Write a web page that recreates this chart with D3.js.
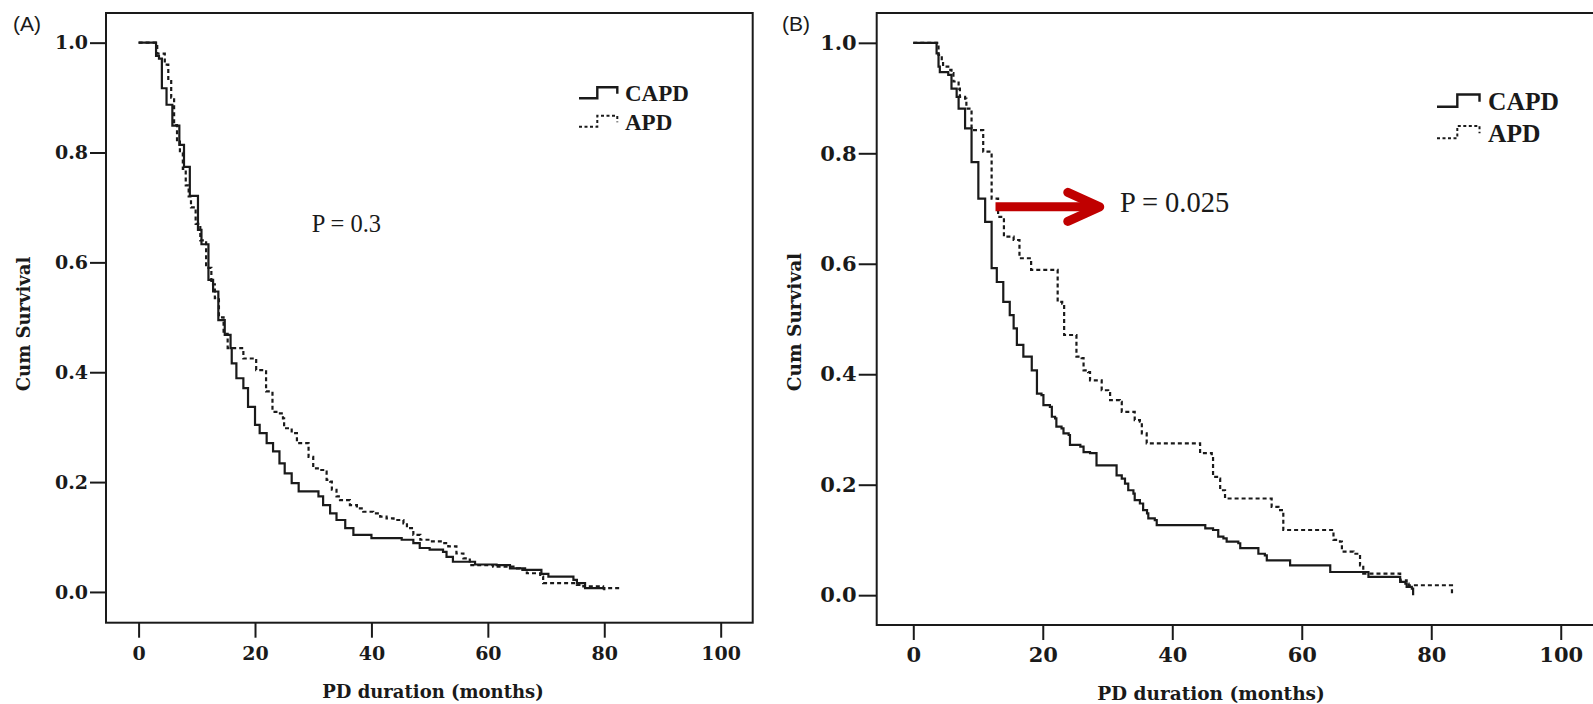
<!DOCTYPE html>
<html>
<head>
<meta charset="utf-8">
<script src="https://cdn.jsdelivr.net/npm/d3@7"></script>
<style>
  html, body { margin: 0; padding: 0; background: #fff; overflow: hidden; }
</style>
</head>
<body>
<svg id="chart" width="1593" height="704"></svg>
<script>
// ticks shared by both panels
const survivalTicks = [0, 0.2, 0.4, 0.6, 0.8, 1.0];
const monthTicks = [0, 20, 40, 60, 80, 100];
const groups = ["CAPD", "APD"];
const pLabels = ["P = 0.3", "P = 0.025"];

// Kaplan-Meier steps: [months, cum survival after the drop]
const capdA = [[0,1],[3.0,0.976],[3.5,0.971],[4.0,0.917],[4.8,0.887],[5.8,0.849],[7.0,0.814],[7.8,0.774],[8.8,0.721],
  [10.2,0.659],[10.8,0.633],[12.0,0.568],[12.8,0.547],[13.7,0.495],[14.8,0.468],[15.8,0.444],[16.0,0.416],[16.8,0.389],
  [18.0,0.371],[18.8,0.337],[20.0,0.304],[20.8,0.289],[22.0,0.271],[23.1,0.256],[24.2,0.234],[25.1,0.216],[26.3,0.198],
  [27.5,0.183],[30.9,0.174],[31.7,0.158],[32.9,0.143],[34.0,0.131],[35.5,0.116],[36.9,0.104],[40.0,0.098],[45.2,0.095],
  [47.2,0.089],[48.3,0.080],[50.0,0.077],[52.3,0.073],[52.9,0.064],[54.0,0.055],[57.8,0.050],[61.5,0.049],[63.8,0.043],
  [66.4,0.040],[69.2,0.033],[70.4,0.028],[74.7,0.022],[75.3,0.016],[76.7,0.007],[80.0,0.003]];

const apdA = [[0,1],[3.2,0.98],[4.5,0.96],[5.1,0.93],[5.6,0.90],[6.1,0.85],[6.6,0.82],[7.1,0.80],[7.6,0.77],[8.1,0.74],
  [8.6,0.72],[9.0,0.70],[9.8,0.67],[10.6,0.64],[11.6,0.59],[12.5,0.56],[13.1,0.535],[13.8,0.50],[14.6,0.47],[15.3,0.444],
  [18.0,0.425],[20.2,0.404],[21.9,0.365],[23.0,0.328],[24.0,0.325],[24.8,0.316],[25.0,0.298],[26.3,0.289],[27.2,0.271],
  [29.2,0.246],[30.0,0.225],[31.2,0.222],[32.0,0.219],[32.3,0.204],[32.9,0.201],[33.2,0.186],[34.0,0.174],[34.6,0.167],
  [36.3,0.158],[37.5,0.152],[38.6,0.146],[40.3,0.143],[41.5,0.137],[42.6,0.134],[43.8,0.131],[45.5,0.125],[46.1,0.116],
  [47.2,0.104],[48.4,0.095],[50.1,0.092],[52.3,0.089],[53.2,0.083],[54.6,0.070],[55.8,0.061],[56.9,0.049],[60.9,0.046],
  [64.4,0.043],[65.5,0.040],[66.7,0.034],[69.0,0.028],[69.5,0.016],[75.3,0.013],[76.4,0.010],[79.8,0.007],[83.0,0.007]];

const capdB = [[0,1],[3.6,0.981],[3.9,0.957],[4.1,0.947],[5.4,0.942],[5.9,0.917],[6.7,0.902],[7.0,0.881],[8.0,0.845],
  [9.0,0.784],[10.05,0.718],[11.1,0.676],[12.1,0.592],[12.9,0.567],[13.9,0.531],[14.9,0.507],[15.5,0.483],[16.0,0.453],
  [17.0,0.432],[18.3,0.407],[19.1,0.365],[19.8,0.362],[20.1,0.344],[21.1,0.341],[21.4,0.323],[21.9,0.320],[22.1,0.305],
  [22.9,0.302],[23.2,0.293],[24.0,0.290],[24.2,0.272],[25.8,0.269],[26.3,0.259],[27.3,0.257],[28.3,0.235],[31.4,0.217],
  [32.2,0.211],[32.7,0.202],[33.2,0.190],[34.0,0.184],[34.2,0.172],[35.0,0.166],[35.5,0.154],[36.1,0.148],[36.3,0.139],
  [37.3,0.136],[37.6,0.127],[45.1,0.121],[46.3,0.118],[47.1,0.106],[47.9,0.103],[48.4,0.097],[50.2,0.094],[50.5,0.085],
  [53.3,0.075],[54.3,0.072],[54.6,0.063],[58.2,0.054],[64.4,0.042],[70.3,0.033],[75.2,0.024],[76.0,0.021],[76.2,0.015],
  [77.0,0.012],[77.2,0.0]];

const apdB = [[0,1],[3.9,0.978],[4.4,0.966],[4.6,0.957],[5.4,0.951],[5.9,0.945],[6.2,0.930],[7.0,0.917],[7.2,0.902],
  [8.0,0.899],[8.2,0.881],[9.0,0.842],[10.8,0.803],[12.1,0.718],[13.1,0.685],[14.0,0.649],[15.5,0.643],[16.4,0.610],
  [18.2,0.589],[22.3,0.531],[23.0,0.528],[23.3,0.471],[25.2,0.432],[26.0,0.429],[26.3,0.407],[27.0,0.404],[27.3,0.389],
  [29.1,0.371],[30.1,0.368],[30.4,0.353],[31.9,0.350],[32.2,0.332],[34.2,0.317],[35.0,0.314],[35.3,0.293],[36.05,0.275],
  [44.3,0.257],[46.1,0.253],[46.3,0.214],[47.1,0.211],[47.4,0.190],[48.15,0.175],[55.35,0.160],[56.4,0.154],[57.15,0.118],
  [64.9,0.100],[65.9,0.097],[66.2,0.079],[68.0,0.075],[69.0,0.054],[69.5,0.039],[75.2,0.027],[76.2,0.021],[76.5,0.018],
  [83.2,0.018],[83.2,0.0]];

// red arrow pointing at the gap in panel B, in data units
const arrowB = [[12.7, 0.703], [28.8, 0.703]];

const svg = d3.select("#chart");
const serif = "'DejaVu Serif', serif";
const times = "'Liberation Serif', 'Times New Roman', serif";
const ink = "#1a1a1a";

const panels = [
  { tag: "(A)", tagAt: [13, 31], box: [106, 13, 752.7, 622.7], xDom: [-5.6, 105.5], yDom: [-0.056, 1.054],
    k: 1, yTick: 16, xTick: 15, xPad: 9, tickFont: 19, titleFont: 18, series: [capdA, apdA],
    p: pLabels[0], pAt: [311.7, 231.7], pFont: 24.5, legendAt: [579, 98.3],
    yTitle: [30, 324], xTitle: [433, 698], arrow: null },
  { tag: "(B)", tagAt: [782, 31], box: [876.7, 13, 1597, 625], xDom: [-5.65, 105.6], yDom: [-0.054, 1.054],
    k: 1.11, yTick: 18, xTick: 15, xPad: 7, tickFont: 21, titleFont: 18.5, series: [capdB, apdB],
    p: pLabels[1], pAt: [1120, 212], pFont: 28.5, legendAt: [1437, 106.7],
    yTitle: [801, 322], xTitle: [1211, 700], arrow: arrowB }
];

function drawPanel(p) {
  const [bx0, by0, bx1, by1] = p.box;
  const x = d3.scaleLinear().domain(p.xDom).range([bx0, bx1]);
  const y = d3.scaleLinear().domain(p.yDom).range([by1, by0]);
  const g = svg.append("g");

  g.append("text").attr("x", p.tagAt[0]).attr("y", p.tagAt[1])
    .attr("font-family", "'Liberation Sans', Arial, sans-serif").attr("font-size", 21)
    .attr("fill", ink).text(p.tag);

  const yAxis = g.append("g").attr("transform", `translate(${bx0},0)`)
    .call(d3.axisLeft(y).tickValues(survivalTicks).tickFormat(d3.format(".1f")).tickSize(p.yTick).tickPadding(2));
  const xAxis = g.append("g").attr("transform", `translate(0,${by1})`)
    .call(d3.axisBottom(x).tickValues(monthTicks).tickFormat(d3.format("d")).tickSize(p.xTick).tickPadding(p.xPad));
  [yAxis, xAxis].forEach(a => {
    a.select(".domain").remove();
    a.selectAll(".tick line").attr("stroke", ink).attr("stroke-width", 2);
    a.selectAll(".tick text").attr("font-family", serif).attr("font-weight", "bold")
      .attr("font-size", p.tickFont).attr("fill", ink);
  });

  g.append("rect").attr("x", bx0).attr("y", by0).attr("width", bx1 - bx0).attr("height", by1 - by0)
    .attr("fill", "none").attr("stroke", ink).attr("stroke-width", 2);

  g.append("text").attr("transform", `translate(${p.yTitle[0]},${p.yTitle[1]}) rotate(-90)`)
    .attr("text-anchor", "middle").attr("font-family", serif).attr("font-weight", "bold")
    .attr("font-size", p.titleFont).attr("fill", ink).text("Cum Survival");
  g.append("text").attr("x", p.xTitle[0]).attr("y", p.xTitle[1])
    .attr("text-anchor", "middle").attr("font-family", serif).attr("font-weight", "bold")
    .attr("font-size", p.titleFont).attr("fill", ink).text("PD duration (months)");

  const line = d3.line().x(d => x(d[0])).y(d => y(d[1])).curve(d3.curveStepAfter);
  p.series.forEach((s, i) => {
    g.append("path").datum(s).attr("d", line).attr("fill", "none")
      .attr("stroke", ink).attr("stroke-width", i === 0 ? 2.2 : 2.2)
      .attr("stroke-dasharray", i === 0 ? null : "4,3");
  });

  // legend: little step glyph + group name
  const k = p.k;
  const leg = g.append("g").attr("transform", `translate(${p.legendAt[0]},${p.legendAt[1]})`);
  groups.forEach((name, i) => {
    const dy = i * 28.4 * k;
    const glyph = [[0, 0], [18.3 * k, 0], [18.3 * k, -11 * k], [38.3 * k, -11 * k], [38.3 * k, -4.5 * k]];
    leg.append("path").attr("d", d3.line()(glyph.map(([a, b]) => [a, b + dy])))
      .attr("fill", "none").attr("stroke", ink).attr("stroke-width", i === 0 ? 2.4 : 2)
      .attr("stroke-dasharray", i === 0 ? null : "3,2.5");
    leg.append("text").attr("x", 46 * k).attr("y", dy + 3 * k)
      .attr("font-family", times).attr("font-weight", "bold").attr("font-size", 23 * k)
      .attr("fill", ink).text(name);
  });

  g.append("text").attr("x", p.pAt[0]).attr("y", p.pAt[1])
    .attr("font-family", times).attr("font-size", p.pFont).attr("fill", ink).text(p.p);

  if (p.arrow) {
    const [a, b] = p.arrow;
    const x0 = x(a[0]), x1 = x(b[0]), yy = y(a[1]);
    g.append("line").attr("x1", x0).attr("x2", x1 - 5).attr("y1", yy).attr("y2", yy)
      .attr("stroke", "#c00000").attr("stroke-width", 9);
    g.append("path").attr("d", d3.line()([[x1 - 32, yy - 14.5], [x1, yy], [x1 - 32, yy + 14.5]]))
      .attr("fill", "none").attr("stroke", "#c00000").attr("stroke-width", 9)
      .attr("stroke-linecap", "round").attr("stroke-linejoin", "round");
  }
}

panels.forEach(drawPanel);
</script>
</body>
</html>
